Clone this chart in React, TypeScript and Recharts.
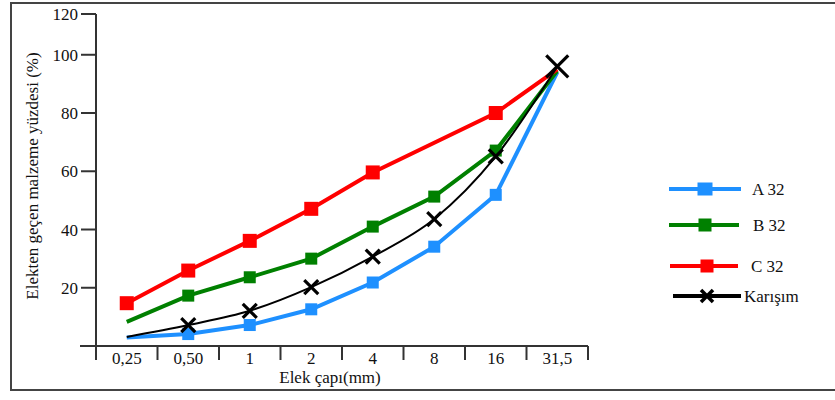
import React from 'react';
import { LineChart, Line, XAxis, YAxis, Legend } from 'recharts';

// ---- data ----
const categories = ['0,25', '0,50', '1', '2', '4', '8', '16', '31,5'];
const a32 = [2.9, 4.1, 7.2, 12.6, 21.8, 34.1, 51.9, 94];
const b32 = [8.3, 17.3, 23.6, 30.0, 41.0, 51.3, 67.1, 94.5];
const c32: (number | null)[] = [14.7, 25.9, 36.1, 47.1, 59.6, null, 80.0, 95];
const karisim = [3.1, 7.2, 12.1, 20.2, 30.7, 43.6, 65.1, 96];
const yTickValues = [20, 40, 60, 80, 100, 114];
const yTickLabels = ['20', '40', '60', '80', '100', '120'];
const xTitle = 'Elek çapı(mm)';
const yTitle = 'Elekten geçen malzeme yüzdesi (%)';

const data = categories.map((c, i) => ({
  cat: c,
  a32: a32[i],
  b32: b32[i],
  c32: c32[i],
  karisim: karisim[i],
}));

// ---- layout / style ----
const W = 835;
const H = 400;
const PLOT_LEFT = 96;
const PLOT_RIGHT = 588;
const PLOT_TOP = 14;
const PLOT_BOTTOM = 346;
const BAND = (PLOT_RIGHT - PLOT_LEFT) / categories.length;
const FONT = '"Liberation Serif", "Times New Roman", serif';
const AXIS = '#333';
const TXT = '#111';

const series = [
  { key: 'a32', name: 'A 32', color: '#1E90FF', marked: [1, 2, 3, 4, 5, 6], size: 12 },
  { key: 'b32', name: 'B 32', color: '#008000', marked: [1, 2, 3, 4, 5, 6], size: 12 },
  { key: 'c32', name: 'C 32', color: '#FF0000', marked: [0, 1, 2, 3, 4, 6], size: 14 },
];

const squareDot = (color: string, marked: number[], size: number) => (props: any) => {
  const { cx, cy, index } = props;
  if (cx == null || cy == null || !marked.includes(index)) return <g key={`e${index}`} />;
  return (
    <rect key={`d${index}`} x={cx - size / 2} y={cy - size / 2} width={size} height={size} fill={color} />
  );
};

const xDot = (props: any) => {
  const { cx, cy, index } = props;
  if (cx == null || cy == null || index === 0) return <g key={`e${index}`} />;
  const s = index === categories.length - 1 ? 11 : 7;
  return (
    <g key={`x${index}`}>
      <line x1={cx - s} y1={cy - s} x2={cx + s} y2={cy + s} stroke="#000" strokeWidth={3.2} />
      <line x1={cx - s} y1={cy + s} x2={cx + s} y2={cy - s} stroke="#000" strokeWidth={3.2} />
    </g>
  );
};

const XTick = (props: any) => {
  const { x, y, index, payload } = props;
  const half = BAND / 2;
  return (
    <g>
      <line x1={x - half} y1={y} x2={x - half} y2={y + 14} stroke={AXIS} strokeWidth={2} />
      {index === categories.length - 1 && (
        <line x1={x + half} y1={y} x2={x + half} y2={y + 14} stroke={AXIS} strokeWidth={2} />
      )}
      {index === 0 && <line x1={x - half - 16} y1={y} x2={x - half} y2={y} stroke={AXIS} strokeWidth={2} />}
      <text x={x} y={y + 18} textAnchor="middle" fontFamily={FONT} style={{ fontFamily: FONT }} fontSize={17} fill={TXT}>
        {payload.value}
      </text>
    </g>
  );
};

const LegendContent = () => {
  const rows = [
    { y: 19, x1: 9, x2: 81, mx: 45, tx: 92, color: series[0].color, label: series[0].name, mw: 15 },
    { y: 55, x1: 9, x2: 79, mx: 45, tx: 93, color: series[1].color, label: series[1].name, mw: 13 },
    { y: 96, x1: 10, x2: 78, mx: 47, tx: 91, color: series[2].color, label: series[2].name, mw: 13 },
  ];
  return (
    <svg width={175} height={140} style={{ display: 'block' }}>
      {rows.map((r) => (
        <g key={r.label}>
          <line x1={r.x1} y1={r.y} x2={r.x2} y2={r.y} stroke={r.color} strokeWidth={4} />
          <rect x={r.mx - r.mw / 2} y={r.y - 6.5} width={r.mw} height={13} fill={r.color} />
          <text x={r.tx} y={r.y + 6} style={{ fontFamily: FONT }} fontSize={17} fill={TXT}>
            {r.label}
          </text>
        </g>
      ))}
      <g>
        <line x1={13} y1={126} x2={81} y2={126} stroke="#000" strokeWidth={4} />
        <line x1={41} y1={120} x2={53} y2={132} stroke="#000" strokeWidth={3.5} />
        <line x1={41} y1={132} x2={53} y2={120} stroke="#000" strokeWidth={3.5} />
        <text x={84} y={132} style={{ fontFamily: FONT }} fontSize={17} fill={TXT}>
          Karışım
        </text>
      </g>
    </svg>
  );
};

export default function App() {
  return (
    <div style={{ position: 'absolute', left: 0, top: 0, width: W, height: H, background: '#fff', fontFamily: FONT }}>
      <div
        style={{
          position: 'absolute',
          left: 10,
          top: 2,
          width: W,
          height: 389,
          border: '2px solid #444',
          borderRight: 'none',
          boxSizing: 'border-box',
        }}
      />
      <LineChart
        width={W}
        height={H}
        data={data}
        margin={{ top: PLOT_TOP, right: W - PLOT_RIGHT, bottom: 0, left: 0 }}
      >
        <XAxis
          dataKey="cat"
          type="category"
          scale="band"
          height={H - PLOT_BOTTOM}
          axisLine={{ stroke: AXIS, strokeWidth: 2 }}
          tickLine={false}
          tickSize={0}
          tickMargin={0}
          interval={0}
          tick={<XTick />}
          label={{
            content: () => (
              <text
                x={(PLOT_LEFT + PLOT_RIGHT) / 2 - 12}
                y={383}
                textAnchor="middle"
                style={{ fontFamily: FONT }}
                fontSize={17}
                fill={TXT}
              >
                {xTitle}
              </text>
            ),
          }}
        />
        <YAxis
          width={PLOT_LEFT}
          domain={[0, 114]}
          ticks={yTickValues}
          interval={0}
          tickFormatter={(v: number) => yTickLabels[yTickValues.indexOf(v)]}
          axisLine={{ stroke: AXIS, strokeWidth: 2 }}
          tickLine={{ stroke: AXIS, strokeWidth: 2 }}
          tickSize={15}
          tickMargin={3}
          tick={{ fontFamily: FONT, fontSize: 17, fill: TXT, style: { fontFamily: FONT } }}
          label={{
            content: () => (
              <text
                transform={`translate(38, ${(PLOT_TOP + PLOT_BOTTOM) / 2 - 4}) rotate(-90)`}
                textAnchor="middle"
                style={{ fontFamily: FONT }}
                fontSize={17}
                fill={TXT}
              >
                {yTitle}
              </text>
            ),
          }}
        />
        {series.map((s) => (
          <Line
            key={s.key}
            type="linear"
            dataKey={s.key}
            name={s.name}
            stroke={s.color}
            strokeWidth={4}
            connectNulls
            dot={squareDot(s.color, s.marked, s.size)}
            activeDot={false}
            isAnimationActive={false}
          />
        ))}
        <Line
          type="monotone"
          dataKey="karisim"
          name="Karışım"
          stroke="#000"
          strokeWidth={2}
          dot={xDot}
          activeDot={false}
          isAnimationActive={false}
        />
        <Legend
          layout="vertical"
          align="center"
          verticalAlign="middle"
          content={<LegendContent />}
          wrapperStyle={{ left: 660, top: 170, width: 175, height: 140 }}
        />
      </LineChart>
    </div>
  );
}
